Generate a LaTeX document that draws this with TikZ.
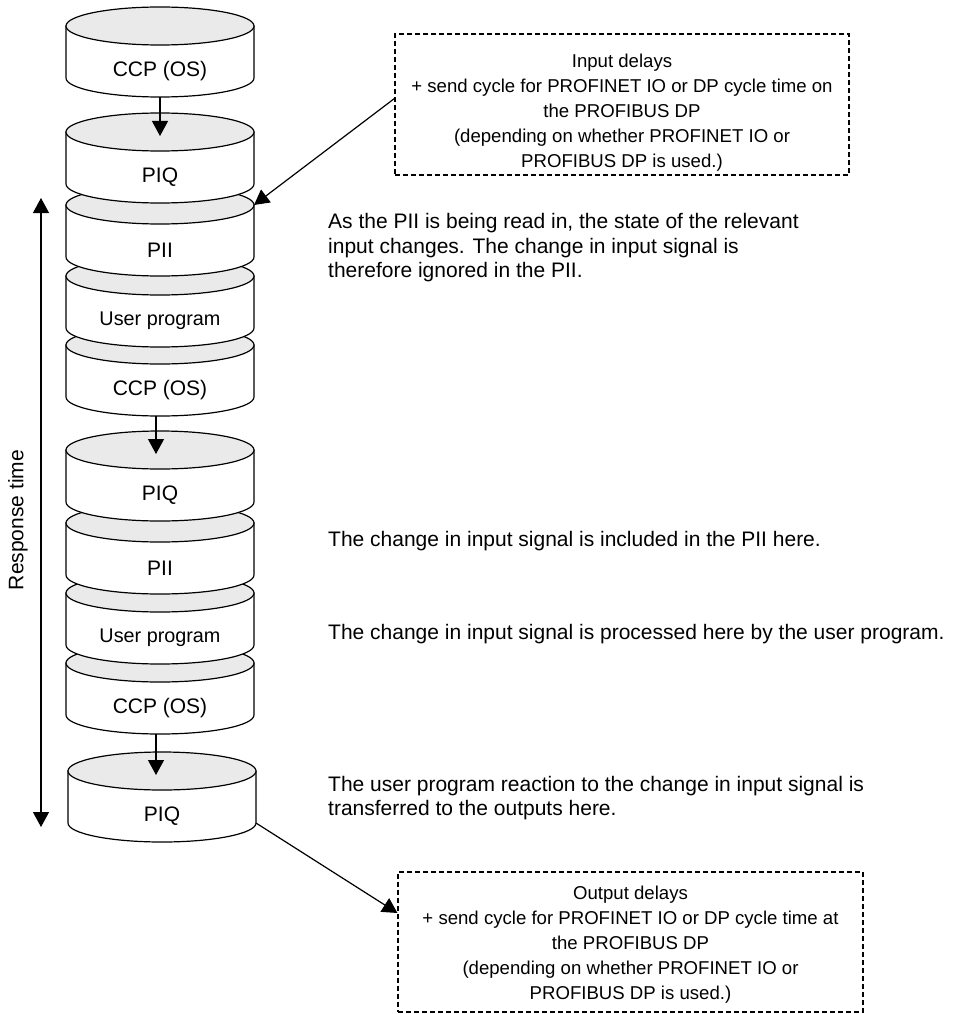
\documentclass[tikz,border=0pt]{standalone}
\usepackage{fontspec}
\setmainfont{Liberation Sans}
\usetikzlibrary{arrows.meta}
\definecolor{topgray}{RGB}{234,234,234}
\newcommand\mycyl[5]{% name, cx, top, label, size
  \path[cylbody] (#2-94,#3) -- (#2-94,#3+52) arc[start angle=180,end angle=360,x radius=94pt,y radius=19pt] -- (#2+94,#3) -- cycle;
  \path[cyltop] (#2,#3) ellipse [x radius=94pt, y radius=19pt];
  \node[inner sep=0pt,font=\fontsize{#5}{#5}\selectfont] (#1) at (#2,#3+45) {#4};
  \coordinate (#1-bot) at (#2,#3+71);
  \coordinate (#1-top) at (#2,#3+4);
  \coordinate (#1-ne) at (#2+94,#3);
  \coordinate (#1-se) at (#2+94,#3+52);
}
\begin{document}
\begin{tikzpicture}[x=1pt,y=-1pt,
  cylbody/.style={fill=white,draw=black,line width=1.2pt},
  cyltop/.style={fill=topgray,draw=black,line width=1.2pt},
  side/.style={font=\fontsize{21}{24.5}\selectfont, anchor=west, align=left, inner sep=0pt},
  boxtxt/.style={font=\fontsize{18.6}{25}\selectfont, align=center, inner sep=0pt},
  dbox/.style={draw=black, line width=1.1pt, dash pattern=on 5pt off 3pt, inner sep=0pt},
  arr/.style={line width=1.2pt, -{Triangle[length=15pt,width=16pt]}},
]
\useasboundingbox (0,0) rectangle (956,1014);
% cylinders, lowest first
\mycyl{c10}{162}{771}{PIQ}{21}
\mycyl{c9}{160}{663}{CCP (OS)}{21}
\mycyl{c8}{160}{593}{User program}{19.8}
\mycyl{c7}{160}{523}{PII}{21}
\mycyl{c6}{160}{450}{PIQ}{21}
\mycyl{c5}{160}{345}{CCP (OS)}{21}
\mycyl{c4}{160}{276}{User program}{19.8}
\mycyl{c3}{160}{205}{PII}{21}
\mycyl{c2}{160}{132}{PIQ}{21}
\mycyl{c1}{160}{26}{CCP (OS)}{21}
% arrows between cylinders
\draw[arr] (c1-bot) -- (c2-top);
\draw[arr] ([xshift=-4pt]c5-bot) -- ([xshift=-4pt]c6-top);
\draw[arr] ([xshift=-4pt]c9-bot) -- ([xshift=-6pt]c10-top);
% response time
\coordinate (rt-top) at (41,198);
\coordinate (rt-bot) at (41,827);
\draw[line width=1.2pt, {Triangle[length=15pt,width=16pt]}-{Triangle[length=15pt,width=16pt]}] (rt-bot) -- (rt-top);
\node[rotate=90, inner sep=0pt, font=\fontsize{21}{21}\selectfont] (rtl) at (18,520) {Response time};
% input box
\node[dbox, minimum width=454pt, minimum height=141pt] (inbox) at (622,104.5) {};
\node[boxtxt] (intext) at (622,113) {Input delays\\+ send cycle for PROFINET IO or DP cycle time on\\the PROFIBUS DP\\(depending on whether PROFINET IO or\\PROFIBUS DP is used.)};
\draw[arr] ([yshift=6pt]inbox.west) -- (c3-ne);
% output box
\node[dbox, minimum width=465pt, minimum height=140pt] (outbox) at (630.5,942) {};
\node[boxtxt] (outtext) at (630.5,945) {Output delays\\+ send cycle for PROFINET IO or DP cycle time at\\the PROFIBUS DP\\(depending on whether PROFINET IO or\\PROFIBUS DP is used.)};
\draw[arr] (c10-se) -- ([yshift=29pt]outbox.west);
% side texts
\node[side] (t1) at (328,248) {As the PII is being read in, the state of the relevant\\input changes. The change in input signal is\\therefore ignored in the PII.};
\node[side] (t2) at (328,541) {The change in input signal is included in the PII here.};
\node[side] (t3) at (328,634) {The change in input signal is processed here by the user program.};
\node[side] (t4) at (328,798) {The user program reaction to the change in input signal is\\transferred to the outputs here.};
\end{tikzpicture}
\end{document}
